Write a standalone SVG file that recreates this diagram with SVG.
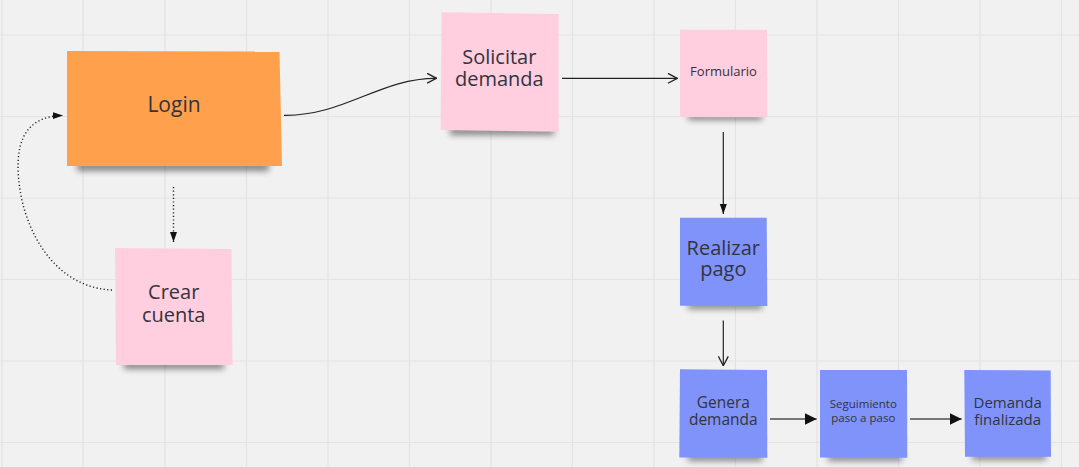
<svg xmlns="http://www.w3.org/2000/svg" width="1079" height="467" viewBox="0 0 1079 467">
<defs>
<style>
.grid line{stroke:#e3e3e3;stroke-width:1.2}
.t{font-family:"Open Sans","Liberation Sans",sans-serif;fill:#33333d;text-anchor:middle}
.orange{fill:#ffa04d}
.pink{fill:#ffcfe0}
.blue{fill:#7f93fb}
.sh{fill:#000;opacity:0.45;filter:url(#blur)}
.dot{fill:none;stroke:#222;stroke-width:1.4;stroke-dasharray:1.2 2.4}
.ln{fill:none;stroke:#222;stroke-width:1.2}
.gl{fill:none;stroke:#777;stroke-width:2}
</style>
<filter id="blur" x="-20%" y="-100%" width="140%" height="300%"><feGaussianBlur stdDeviation="3"/></filter>
<marker id="fill" viewBox="0 0 10 10" refX="10" refY="5" markerWidth="10" markerHeight="10" markerUnits="userSpaceOnUse" orient="auto"><path d="M0,1.5 L10,5 L0,8.5 Z" fill="#111"/></marker>
<marker id="fillbig" viewBox="0 0 10 10" refX="10" refY="5" markerWidth="12" markerHeight="12" markerUnits="userSpaceOnUse" orient="auto"><path d="M0,0 L10,5 L0,10 Z" fill="#111"/></marker>
<marker id="open" viewBox="0 0 10 10" refX="9.5" refY="5" markerWidth="11" markerHeight="11" markerUnits="userSpaceOnUse" orient="auto"><path d="M1,0.5 L9.5,5 L1,9.5" fill="none" stroke="#222" stroke-width="1.2"/></marker>
</defs>
<rect width="1079" height="467" fill="#f1f1f1"/>
<g class="grid">
<line x1="2" y1="0" x2="2" y2="467"/><line x1="83" y1="0" x2="83" y2="467"/><line x1="165" y1="0" x2="165" y2="467"/><line x1="246.5" y1="0" x2="246.5" y2="467"/><line x1="328" y1="0" x2="328" y2="467"/><line x1="409.5" y1="0" x2="409.5" y2="467"/><line x1="491" y1="0" x2="491" y2="467"/><line x1="572.5" y1="0" x2="572.5" y2="467"/><line x1="654" y1="0" x2="654" y2="467"/><line x1="735.5" y1="0" x2="735.5" y2="467"/><line x1="817" y1="0" x2="817" y2="467"/><line x1="898.5" y1="0" x2="898.5" y2="467"/><line x1="980" y1="0" x2="980" y2="467"/><line x1="1061.5" y1="0" x2="1061.5" y2="467"/>
<line x1="0" y1="35" x2="1079" y2="35"/><line x1="0" y1="116.5" x2="1079" y2="116.5"/><line x1="0" y1="198" x2="1079" y2="198"/><line x1="0" y1="279.5" x2="1079" y2="279.5"/><line x1="0" y1="361" x2="1079" y2="361"/><line x1="0" y1="442.5" x2="1079" y2="442.5"/>
</g>
<g id="connectors">
<path class="dot" d="M112,290 C60,288 28,240 20,190 C14,150 20,116 63,115.5" marker-end="url(#fill)"/>
<path class="dot" d="M173.5,187 L173.5,242" marker-end="url(#fill)"/>
<path class="ln" d="M284,115.3 C345,116 380,78 436.5,78.3" marker-end="url(#open)"/>
<path class="ln" d="M562,78.3 L677.3,78.3" marker-end="url(#open)"/>
<path class="ln" d="M723.3,132 L723.3,214" marker-end="url(#fill)"/>
<path class="ln" d="M723.3,320.5 L723.3,365.7" marker-end="url(#open)"/>
<path class="gl" d="M770,419 L816.7,419" marker-end="url(#fillbig)"/>
<path class="gl" d="M910,419 L961.7,419" marker-end="url(#fillbig)"/>
</g>
<g id="login">
<rect class="sh" x="77" y="162" width="192" height="9"/>
<path class="orange" d="M67,51 L279.5,51.5 L282,166 L67,166 Z"/>
<text class="t" x="174" y="112" font-size="21">Login</text>
</g>
<g id="crear-cuenta">
<rect class="sh" x="124" y="361" width="100" height="8"/>
<path class="pink" d="M115,248 L231.5,249 L232.5,365 L116,365 Z"/>
<text class="t" x="173.7" y="299" font-size="20">Crear</text>
<text class="t" x="173.7" y="322" font-size="20">cuenta</text>
</g>
<g id="solicitar-demanda">
<rect class="sh" x="450" y="127" width="104" height="8"/>
<path class="pink" d="M441.5,12.3 L558.7,14 L558.7,131.7 L440.7,130 Z"/>
<text class="t" x="499.3" y="64" font-size="20">Solicitar</text>
<text class="t" x="499.3" y="86" font-size="20">demanda</text>
</g>
<g id="formulario">
<rect class="sh" x="688" y="113" width="74" height="7"/>
<path class="pink" d="M680,29.7 L767,29.7 L767.3,117.3 L680,117 Z"/>
<text class="t" x="723.5" y="76" font-size="13">Formulario</text>
</g>
<g id="realizar-pago">
<rect class="sh" x="688" y="302" width="74" height="7"/>
<path class="blue" d="M680,217.7 L766.7,217.7 L767.3,306 L680,305.7 Z"/>
<text class="t" x="723.3" y="255" font-size="20">Realizar</text>
<text class="t" x="723.3" y="276" font-size="20">pago</text>
</g>
<g id="genera-demanda">
<rect class="sh" x="688" y="454" width="74" height="7"/>
<path class="blue" d="M680,369.3 L767,370 L767.3,457.7 L679.3,457.5 Z"/>
<text class="t" x="723.3" y="408.3" font-size="15.5">Genera</text>
<text class="t" x="723.3" y="425" font-size="15.5">demanda</text>
</g>
<g id="seguimiento">
<rect class="sh" x="828" y="454" width="74" height="7"/>
<path class="blue" d="M820,370 L907,370 L907.3,457.7 L820,457.5 Z"/>
<text class="t" x="863.3" y="407.7" font-size="11.5">Seguimiento</text>
<text class="t" x="863.3" y="421.7" font-size="11.5">paso a paso</text>
</g>
<g id="demanda-finalizada">
<rect class="sh" x="972" y="453" width="74" height="7"/>
<path class="blue" d="M964.3,370 L1050.7,370.5 L1051,456.7 L965,456.7 Z"/>
<text class="t" x="1007.7" y="408.3" font-size="15">Demanda</text>
<text class="t" x="1007.7" y="425" font-size="15">finalizada</text>
</g>
</svg>
